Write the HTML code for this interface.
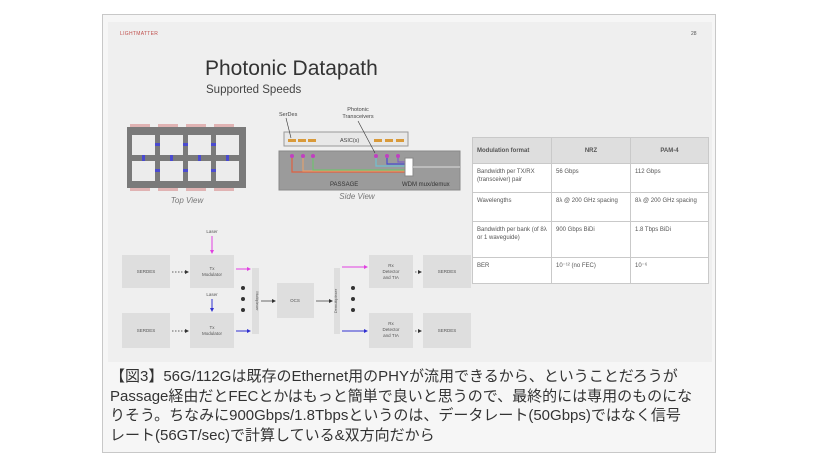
<!DOCTYPE html>
<html><head><meta charset="utf-8"><style>
body{margin:0;width:815px;height:469px;background:#fff;position:relative;overflow:hidden;font-family:"Liberation Sans","Noto Sans CJK JP",sans-serif}
.a{position:absolute}
.frame{left:102px;top:14px;width:612px;height:437px;border:1px solid #c8c8c8;background:#f6f6f6}
.slide{left:108px;top:22px;width:604px;height:340px;background:#efefef}
table{border-collapse:collapse;font-size:6px;color:#555}
td{border:1px solid #c9c9c9;background:#fff;vertical-align:top;padding:4px 4px;line-height:8px}
.cap{left:110px;top:367px;font-size:15px;line-height:19.6px;color:#333;width:640px;white-space:nowrap}
</style></head><body>
<div class="a frame"></div>
<div class="a slide"></div>
<div class="a" style="left:120px;top:31px;font-size:5px;color:#c0504d;letter-spacing:.3px">LIGHTMATTER</div>
<div class="a" style="left:691px;top:31px;font-size:5px;color:#555">28</div>
<div class="a" style="left:205px;top:57px;font-size:21px;color:#333">Photonic Datapath</div>
<div class="a" style="left:206px;top:84px;font-size:11.5px;color:#444">Supported Speeds</div>

<svg class="a" style="left:0;top:0" width="815" height="469">
<g>
<rect x="127" y="127" width="119" height="61" fill="#7a7a7a"/>
<g fill="#e0b3b3"><rect x="130" y="124" width="20" height="3"/><rect x="158" y="124" width="20" height="3"/><rect x="186" y="124" width="20" height="3"/><rect x="214" y="124" width="20" height="3"/>
<rect x="130" y="188" width="20" height="3"/><rect x="158" y="188" width="20" height="3"/><rect x="186" y="188" width="20" height="3"/><rect x="214" y="188" width="20" height="3"/></g>
<g fill="#ececec">
<rect x="132" y="135" width="23" height="20"/><rect x="160" y="135" width="23" height="20"/><rect x="188" y="135" width="23" height="20"/><rect x="216" y="135" width="23" height="20"/>
<rect x="132" y="161" width="23" height="20"/><rect x="160" y="161" width="23" height="20"/><rect x="188" y="161" width="23" height="20"/><rect x="216" y="161" width="23" height="20"/></g>
<g fill="#4a4ad0"><rect x="155" y="143" width="5" height="3"/><rect x="183" y="143" width="5" height="3"/><rect x="211" y="143" width="5" height="3"/>
<rect x="155" y="169" width="5" height="3"/><rect x="183" y="169" width="5" height="3"/><rect x="211" y="169" width="5" height="3"/>
<rect x="142" y="155" width="3" height="6"/><rect x="170" y="155" width="3" height="6"/><rect x="198" y="155" width="3" height="6"/><rect x="226" y="155" width="3" height="6"/></g>
<text x="187" y="203" font-size="8" font-style="italic" fill="#777" text-anchor="middle">Top View</text>
</g>
<rect x="279" y="151" width="181" height="39" fill="#9b9b9b" stroke="#888"/>
<rect x="284" y="132" width="124" height="14" fill="#e8e8e8" stroke="#999"/>
<text x="340" y="142" font-size="5.5" fill="#444">ASIC(s)</text>
<g fill="#d99a3a"><rect x="288" y="139" width="8" height="3"/><rect x="298" y="139" width="8" height="3"/><rect x="308" y="139" width="8" height="3"/><rect x="374" y="139" width="8" height="3"/><rect x="385" y="139" width="8" height="3"/><rect x="396" y="139" width="8" height="3"/></g>
<g fill="none" stroke-width="1.2">
<path d="M292 156V172H405" stroke="#e06040"/><path d="M303 156V171H405" stroke="#e0a070"/><path d="M313 156V170H405" stroke="#70c070"/>
<path d="M376 156V166H405" stroke="#70c0d0"/><path d="M387 156V164H405" stroke="#4a4ad0"/><path d="M398 156V162H405" stroke="#8060c0"/></g>
<g fill="#c040c0"><circle cx="292" cy="156" r="2"/><circle cx="303" cy="156" r="2"/><circle cx="313" cy="156" r="2"/><circle cx="376" cy="156" r="2"/><circle cx="387" cy="156" r="2"/><circle cx="398" cy="156" r="2"/></g>
<rect x="405" y="158" width="8" height="18" fill="#fff" stroke="#888"/>
<line x1="413" y1="167" x2="460" y2="167" stroke="#ddd"/>
<text x="330" y="186" font-size="6" fill="#333">PASSAGE</text>
<text x="402" y="186" font-size="6" fill="#333">WDM mux/demux</text>
<text x="279" y="116" font-size="5.5" fill="#444">SerDes</text>
<text x="358" y="111" font-size="5.5" fill="#444" text-anchor="middle">Photonic</text>
<text x="358" y="118" font-size="5.5" fill="#444" text-anchor="middle">Transceivers</text>
<line x1="286" y1="118" x2="291" y2="138" stroke="#333" stroke-width=".6"/>
<line x1="358" y1="121" x2="375" y2="153" stroke="#333" stroke-width=".6"/>
<text x="357" y="199" font-size="8" font-style="italic" fill="#777" text-anchor="middle">Side View</text>
<g fill="#dedede">
<rect x="122" y="255" width="48" height="33"/><rect x="122" y="313" width="48" height="35"/>
<rect x="190" y="255" width="44" height="33"/><rect x="190" y="313" width="44" height="35"/>
<rect x="252" y="268" width="7" height="66"/><rect x="277" y="283" width="37" height="35"/>
<rect x="334" y="268" width="6" height="66"/>
<rect x="369" y="255" width="44" height="33"/><rect x="369" y="313" width="44" height="35"/>
<rect x="423" y="255" width="48" height="33"/><rect x="423" y="313" width="48" height="35"/></g>
<g font-size="4.5" fill="#555" text-anchor="middle">
<text x="146" y="273">SERDES</text><text x="146" y="332">SERDES</text>
<text x="212" y="270">Tx</text><text x="212" y="276">Modulator</text>
<text x="212" y="329">Tx</text><text x="212" y="335">Modulator</text>
<text x="295" y="302">OCS</text>
<text x="391" y="267">Rx</text><text x="391" y="273">Detector</text><text x="391" y="279">and TIA</text>
<text x="391" y="325">Rx</text><text x="391" y="331">Detector</text><text x="391" y="337">and TIA</text>
<text x="447" y="273">SERDES</text><text x="447" y="332">SERDES</text>
<text x="212" y="233">Laser</text><text x="212" y="296">Laser</text>
<text transform="translate(256,301) rotate(90)" font-size="4">Multiplexer</text>
<text transform="translate(337,301) rotate(-90)" font-size="4">Demultiplexer</text></g>
<g stroke="#333" stroke-width=".7" stroke-dasharray="1.5 1.5" fill="none">
<line x1="172" y1="272" x2="185" y2="272"/><line x1="172" y1="331" x2="185" y2="331"/>
<line x1="415" y1="272" x2="418" y2="272"/><line x1="415" y1="331" x2="418" y2="331"/></g>
<g stroke="#333" stroke-width=".7"><line x1="261" y1="301" x2="272" y2="301"/><line x1="316" y1="301" x2="329" y2="301"/></g>
<g fill="#333"><path d="M185 270l4 2-4 2z"/><path d="M185 329l4 2-4 2z"/><path d="M418 270l4 2-4 2z"/><path d="M418 329l4 2-4 2z"/><path d="M272 299l4 2-4 2z"/><path d="M329 299l4 2-4 2z"/>
<circle cx="243" cy="288" r="2"/><circle cx="243" cy="299" r="2"/><circle cx="243" cy="310" r="2"/>
<circle cx="353" cy="288" r="2"/><circle cx="353" cy="299" r="2"/><circle cx="353" cy="310" r="2"/></g>
<g stroke-width="1"><line x1="212" y1="236" x2="212" y2="250" stroke="#e040e0"/><line x1="236" y1="269" x2="247" y2="269" stroke="#e040e0"/>
<line x1="342" y1="267" x2="364" y2="267" stroke="#e040e0"/>
<line x1="212" y1="299" x2="212" y2="308" stroke="#3030d0"/><line x1="236" y1="331" x2="247" y2="331" stroke="#3030d0"/>
<line x1="342" y1="331" x2="364" y2="331" stroke="#3030d0"/></g>
<path d="M210 250l2 4 2-4z" fill="#e040e0"/><path d="M247 267l4 2-4 2z" fill="#e040e0"/><path d="M364 265l4 2-4 2z" fill="#e040e0"/>
<path d="M210 308l2 4 2-4z" fill="#3030d0"/><path d="M247 329l4 2-4 2z" fill="#3030d0"/><path d="M364 329l4 2-4 2z" fill="#3030d0"/>
</svg>

<table class="a" style="left:472px;top:137px;width:237px">
<tr style="height:26px"><td style="background:#dedede;font-weight:bold;width:70px;vertical-align:middle">Modulation format</td><td style="background:#dedede;text-align:center;width:70px;vertical-align:middle;font-weight:bold">NRZ</td><td style="background:#dedede;text-align:center;vertical-align:middle;font-weight:bold">PAM-4</td></tr>
<tr style="height:29px"><td>Bandwidth per TX/RX (transceiver) pair</td><td>56 Gbps</td><td>112 Gbps</td></tr>
<tr style="height:29px"><td>Wavelengths</td><td>8λ @ 200 GHz spacing</td><td>8λ @ 200 GHz spacing</td></tr>
<tr style="height:36px"><td>Bandwidth per bank (of 8λ or 1 waveguide)</td><td>900 Gbps BiDi</td><td>1.8 Tbps BiDi</td></tr>
<tr style="height:26px"><td>BER</td><td>10⁻¹² (no FEC)</td><td>10⁻⁶</td></tr>
</table>

<div class="a cap">【図3】56G/112Gは既存のEthernet用のPHYが流用できるから、ということだろうが<br>Passage経由だとFECとかはもっと簡単で良いと思うので、最終的には専用のものにな<br>りそう。ちなみに900Gbps/1.8Tbpsというのは、データレート(50Gbps)ではなく信号<br>レート(56GT/sec)で計算している&amp;双方向だから</div>
</body></html>
